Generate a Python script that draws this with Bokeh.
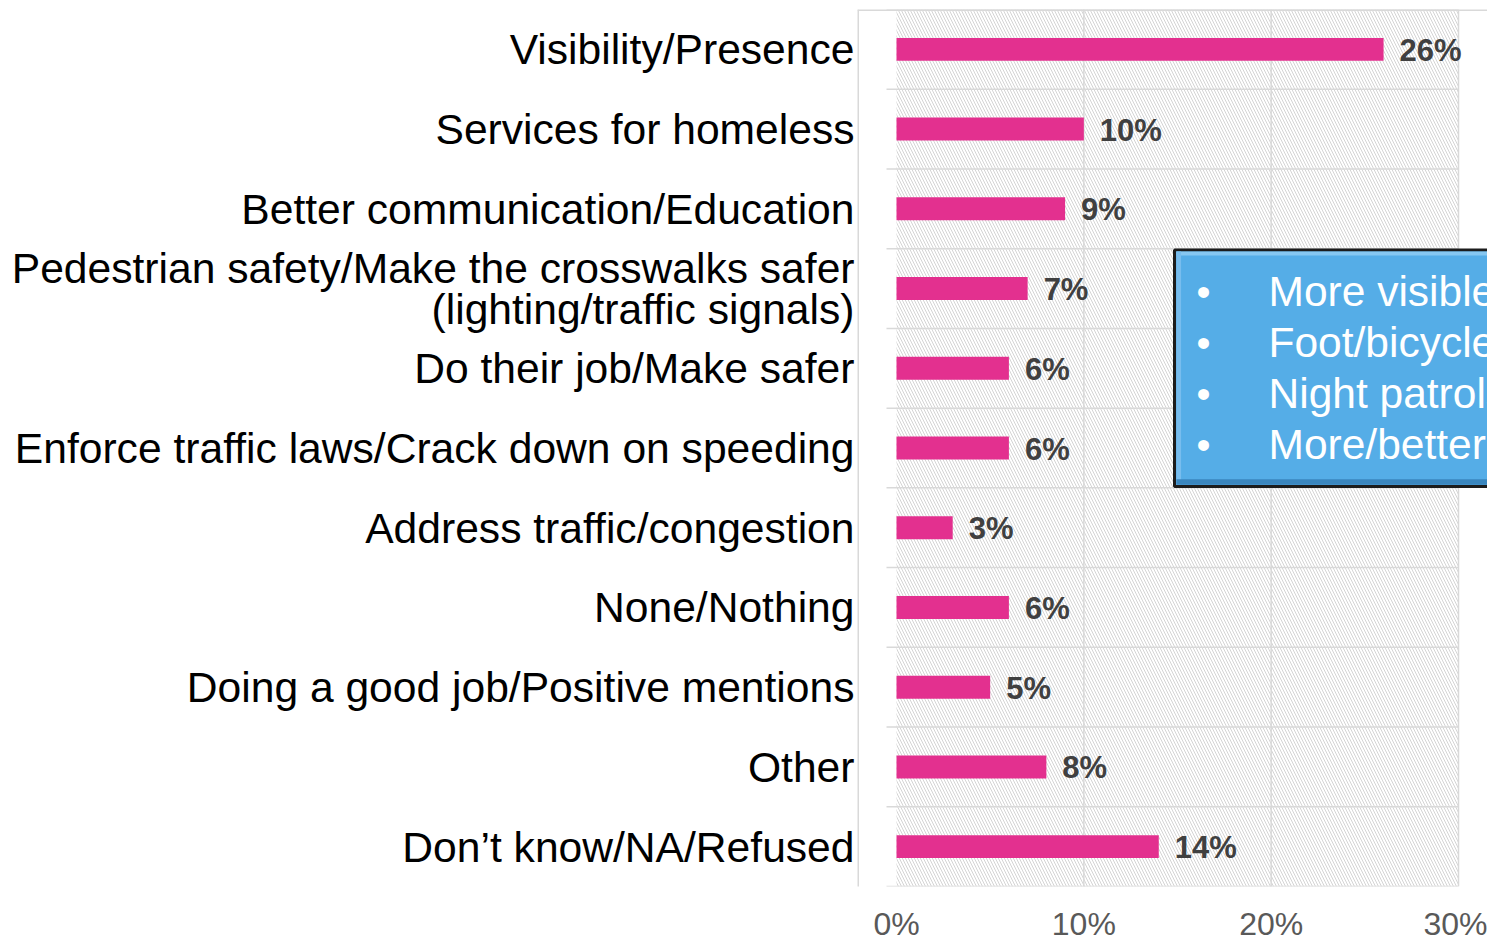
import numpy as np
from bokeh.plotting import figure
from bokeh.models import Range1d, FixedTicker, ColumnDataSource
from bokeh.core.properties import value
from bokeh.embed import file_html
from bokeh.resources import INLINE

# ---------------- data ----------------
categories = [
    "Visibility/Presence",
    "Services for homeless",
    "Better communication/Education",
    "Pedestrian safety/Make the crosswalks safer\n(lighting/traffic signals)",
    "Do their job/Make safer",
    "Enforce traffic laws/Crack down on speeding",
    "Address traffic/congestion",
    "None/Nothing",
    "Doing a good job/Positive mentions",
    "Other",
    "Don\u2019t know/NA/Refused",
]
values = [26, 10, 9, 7, 6, 6, 3, 6, 5, 8, 14]
x_ticks = [0, 10, 20, 30]
x_tick_labels = ["0%", "10%", "20%", "30%"]
callout_items = ["More visible", "Foot/bicycle", "Night patrols", "More/better"]

# ---------------- layout constants ----------------
W, H = 1487, 944
BORDER_L, BORDER_T, BORDER_B = 857, 9, 56
FRAME_W = W - BORDER_L
FRAME_H = H - BORDER_T - BORDER_B
n = len(categories)
PX_PER_PCT = 562 / 30.0           # 0% -> 30% spans 562 px
X0_PX = 896 - BORDER_L            # 0% position inside frame
x_start = -X0_PX / PX_PER_PCT
x_end = x_start + FRAME_W / PX_PER_PCT
PX_PER_ROW = FRAME_H / n


def sx(px):  # canvas px -> data x
    return x_start + (px - BORDER_L) / PX_PER_PCT


def sy(py):  # canvas px -> data y (flipped)
    return -0.5 + (py - BORDER_T) / PX_PER_ROW


GRID = "#d9d9d9"
FONT = "Liberation Sans"

p = figure(width=W, height=H, output_backend="svg", toolbar_location=None,
           x_range=Range1d(x_start, x_end), y_range=Range1d(n - 0.5, -0.5),
           min_border_left=BORDER_L, min_border_right=0,
           min_border_top=BORDER_T, min_border_bottom=BORDER_B)
p.outline_line_color = None
p.xgrid.grid_line_color = None
p.ygrid.grid_line_color = None
p.background_fill_color = "white"
p.border_fill_color = "white"

ypos = list(range(n))

# hatched plot area
p.quad(left=[0], right=[x_ticks[-1]], top=[-0.5], bottom=[n - 0.5],
       fill_color="white", line_color=None,
       hatch_pattern="\\", hatch_color="#d4d4d4", hatch_scale=6, hatch_weight=1)

# grid lines
bounds = np.arange(n + 1) - 0.5
p.segment(x0=[sx(886)] * (n + 1), x1=[x_ticks[-1]] * (n + 1), y0=bounds, y1=bounds,
          line_color=GRID, line_width=1.5)
p.segment(x0=x_ticks[1:], x1=x_ticks[1:], y0=[-0.5] * 3, y1=[n - 0.5] * 3,
          line_color=GRID, line_width=1.5)
# chart border (top / left)
p.segment(x0=[x_start, x_start], x1=[x_end, x_start], y0=[-0.5, -0.5], y1=[-0.5, n + 5],
          line_color=GRID, line_width=3)

# bars
src = ColumnDataSource(dict(y=ypos, v=values, lab=[f"{v}%" for v in values]))
p.hbar(y="y", right="v", left=0, height=23 / PX_PER_ROW, source=src,
       fill_color="#E3308F", line_color=None)
p.text(x="v", y="y", text="lab", source=src, x_offset=16, y_offset=1,
       text_font=value(FONT), text_font_style="bold", text_font_size="31px",
       text_color="#404040", text_baseline="middle", text_align="left")

# callout box
bl, bt, bb = sx(1174), sy(250), sy(487)
br = x_end + 5
p.quad(left=[bl], right=[br], top=[bt], bottom=[bb], fill_color="#55ADE7",
       line_color="#1c1c1c", line_width=3)
p.quad(left=[bl + 0.1], right=[br], top=[bt + 0.02], bottom=[bt + 0.07],
       fill_color="#86C7F1", line_color=None)
p.quad(left=[bl + 0.1], right=[bl + 0.35], top=[bt + 0.02], bottom=[bb - 0.02],
       fill_color="#78BDEE", line_color=None)
p.quad(left=[bl + 0.1], right=[br], top=[bb - 0.09], bottom=[bb - 0.02],
       fill_color="#3A86BE", line_color=None)
cy = [sy(292) + i * (51 / PX_PER_ROW) for i in range(len(callout_items))]
p.text(x=[sx(1203)] * len(callout_items), y=cy, text=["\u2022"] * len(callout_items),
       text_font=value(FONT), text_font_size="40px", text_color="white",
       text_align="center", text_baseline="middle")
p.text(x=[sx(1268)] * len(callout_items), y=cy, text=callout_items,
       text_font=value(FONT), text_font_size="42.5px", text_color="white",
       text_align="left", text_baseline="middle")

# axes
ya = p.yaxis[0]
ya.ticker = FixedTicker(ticks=ypos)
ya.major_label_overrides = {i: c for i, c in enumerate(categories)}
ya.major_label_text_font = FONT
ya.major_label_text_font_size = "42.6px"
ya.major_label_text_line_height = 0.85
ya.major_label_text_color = "black"
ya.axis_line_color = None
ya.major_tick_line_color = None
ya.minor_tick_line_color = None
ya.major_tick_out = 0
ya.major_tick_in = 0
ya.major_label_standoff = 3

xa = p.xaxis[0]
xa.ticker = FixedTicker(ticks=x_ticks)
xa.major_label_overrides = {t: l for t, l in zip(x_ticks, x_tick_labels)}
xa.major_label_text_font = FONT
xa.major_label_text_font_size = "32px"
xa.major_label_text_color = "#595959"
xa.axis_line_color = None
xa.major_tick_line_color = None
xa.minor_tick_line_color = None
xa.major_tick_out = 0
xa.major_tick_in = 0
xa.major_label_standoff = 19

open("out.html", "w").write(file_html(p, INLINE))
